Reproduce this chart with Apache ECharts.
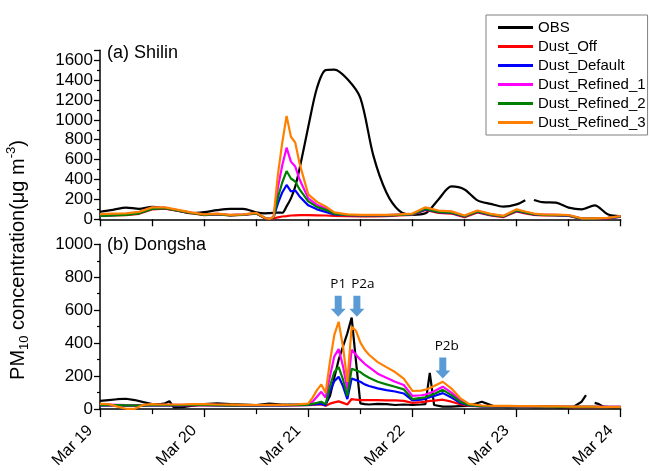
<!DOCTYPE html>
<html><head><meta charset="utf-8">
<script src="https://cdn.jsdelivr.net/npm/echarts@6/dist/echarts.min.js"></script>
<style>html,body{margin:0;padding:0;background:#fff}#c{width:650px;height:471px}</style>
</head><body><div id="c"></div>
<script>
// ---- data ----
const seriesNames = ['OBS','Dust_Off','Dust_Default','Dust_Refined_1','Dust_Refined_2','Dust_Refined_3'];
const seriesColors = ['#000000','#ff0000','#0000ff','#ff00ff','#008000','#ff8000'];
const tickLabels = ['Mar 19','Mar 20','Mar 21','Mar 22','Mar 23','Mar 24'];

// (a) Shilin, hours since Mar 19 00:00
const hoursA = [0,3,6,9,12,15,18,21,24,27,30,33,36,38,39,40,41,42,43,44,45,46,48,50,52,54,57,60,63,66,69,72,75,78,81,84,87,90,93,96,98,99,100,102,105,108,111,114,117,120];
const obsA = [76,95,118,105,125,110,88,62,72,92,105,105,70,60,62,65,68,66,130,210,330,510,930,1320,1500,1505,1410,1220,640,270,85,45,60,200,330,300,190,155,127,150,192,null,194,172,168,118,100,140,50,30];
const offA = [33,38,42,55,100,108,85,62,42,50,38,44,57,10,2,8,20,28,32,38,40,42,42,40,38,35,32,30,30,32,38,45,95,65,58,22,68,40,22,78,60,52,45,40,38,34,5,5,10,25];
const defA = [38,42,48,62,108,114,88,66,46,53,41,47,61,13,3,18,160,270,345,280,290,230,140,100,75,50,42,40,40,40,44,48,100,72,65,28,75,45,28,85,66,58,50,43,41,37,6,6,12,27];
const r1A  = [45,50,55,70,115,115,90,68,48,55,42,48,62,14,3,22,320,540,720,580,530,400,210,145,110,60,45,42,42,42,47,52,112,80,72,34,82,50,32,92,72,63,54,46,44,40,8,8,14,30];
const r2A  = [35,40,45,60,105,112,88,65,45,52,40,46,60,13,3,20,220,370,485,410,380,300,180,125,95,55,43,40,40,40,45,50,105,75,68,30,78,47,30,88,68,60,52,44,42,38,7,7,13,28];
const r3A  = [53,58,60,75,120,120,95,70,50,58,45,50,65,15,3,25,450,770,1040,830,770,560,250,175,130,70,50,45,45,45,50,58,120,88,80,38,88,55,35,100,78,68,58,50,47,43,10,10,15,33];

// (b) Dongsha
const hoursB = [0,2,4,6,8,10,12,14,15,16,17,19,21,24,27,30,33,36,39,42,45,47,48,49,50,51,52,53,54,55,56,57,58,59,60,61,62,64,66,68,70,72,74,75,76,77,79,81,83,85,88,91,94,97,100,103,106,109,111,112,113,114,115,116,118,120];
const obsB = [50,55,60,63,55,42,30,30,35,48,10,12,20,30,35,30,28,25,33,27,28,30,30,28,30,32,30,80,190,300,380,460,555,290,35,30,28,32,30,25,28,25,28,30,220,25,15,15,18,20,45,15,12,15,12,14,10,12,45,85,null,38,30,15,10,10];
const offB = [22,22,22,21,21,21,22,22,22,22,22,22,23,23,22,21,21,21,22,22,23,24,24,26,28,28,20,33,41,47,38,28,61,57,55,55,55,54,53,53,50,38,42,45,50,52,57,45,30,20,16,15,15,14,14,13,13,12,12,12,12,12,12,12,12,12];
const defB = [23,23,23,22,22,22,23,23,23,23,23,23,24,24,23,22,22,22,23,23,24,24,25,28,30,32,22,110,170,196,140,61,186,176,166,150,140,126,115,107,95,53,58,63,72,80,97,70,38,22,17,16,16,15,15,14,14,13,13,13,13,13,13,13,13,13];
const r1B  = [28,27,26,25,25,25,26,26,26,26,26,26,27,27,26,25,24,24,25,25,26,28,30,45,75,105,70,200,320,364,260,120,360,330,300,275,255,215,190,166,146,80,84,88,98,108,136,100,55,28,20,18,18,17,17,16,15,14,14,14,14,14,13,13,13,13];
const r2B  = [24,24,24,23,23,23,24,24,24,24,24,24,25,25,24,23,23,23,24,24,25,26,27,32,38,45,30,140,225,255,180,80,245,235,225,205,190,166,150,136,120,61,68,72,82,92,117,85,45,24,18,17,17,16,16,15,14,13,13,13,13,13,12,12,12,12];
const r3B  = [32,30,15,2,2,26,30,28,28,28,28,28,30,30,28,27,26,25,26,26,28,32,34,70,115,150,100,290,450,530,380,165,500,475,405,360,330,285,255,225,185,110,112,118,128,140,166,125,67,32,22,20,20,18,18,17,16,15,15,15,15,15,14,14,14,14];

// annotation arrows (panel b)
const arrowHours = [54.9, 59.2, 79.0];
const arrowValues = [561, 561, 186];
const arrowLabels = ['P1','P2a','P2b'];

// ---- chart ----
const FONT = "'Liberation Sans', Arial, sans-serif";
const pair = (h, v) => h.map((x, i) => [x, v[i]]);
const seriesA = [obsA, offA, defA, r1A, r2A, r3A];
const seriesB = [obsB, offB, defB, r1B, r2B, r3B];

const chart = echarts.init(document.getElementById('c'), null, {renderer: 'canvas'});
const mkLine = (name, color, data, idx, smooth) => ({
  name, type: 'line', xAxisIndex: idx, yAxisIndex: idx, data,
  showSymbol: false, symbol: 'none', connectNulls: false, smooth: smooth || false,
  lineStyle: {color, width: 2.2}, itemStyle: {color},
  animation: false, silent: true, z: 2
});
const series = [];
seriesNames.forEach((n, i) => {
  series.push(mkLine(n, seriesColors[i], pair(hoursA, seriesA[i]), 0, i === 0 ? 0.3 : false));
  series.push(mkLine(n, seriesColors[i], pair(hoursB, seriesB[i]), 1, false));
});
const labelOffsets = [[0, 0], [6, 0], [4, 0]];
series.push({
  name: 'arrows', type: 'scatter', xAxisIndex: 1, yAxisIndex: 1,
  data: arrowHours.map((h, i) => ({value: [h, arrowValues[i]], name: arrowLabels[i],
                                   label: {offset: labelOffsets[i]}})),
  symbol: 'path://M4,0 L11,0 L11,13 L15,13 L7.5,21 L0,13 L4,13 Z',
  symbolSize: [15, 21], symbolOffset: [0, '-50%'],
  itemStyle: {color: '#5b9bd5', opacity: 1},
  label: {show: true, position: 'top', distance: 4, formatter: p => p.name,
          fontFamily: "'Open Sans', sans-serif", fontSize: 13.5, color: '#000', opacity: 1},
  emphasis: {disabled: true},
  animation: false, silent: true, z: 5
});

const yAxisCommon = {
  type: 'value', min: 0, interval: 200,
  axisLine: {show: true, lineStyle: {color: '#000', width: 1.5}},
  axisTick: {show: true, inside: false, length: 6, lineStyle: {color: '#000', width: 1.3}},
  minorTick: {show: true, splitNumber: 2, length: 3, lineStyle: {color: '#000', width: 1.2}},
  splitLine: {show: false},
  axisLabel: {fontFamily: FONT, fontSize: 17, color: '#000', margin: 7, formatter: v => String(v)}
};

chart.setOption({
  animation: false,
  backgroundColor: '#fff',
  grid: [
    {left: 100, width: 520.7, top: 50.2, height: 169.1},
    {left: 100, width: 520.7, top: 244.3, height: 168.7}
  ],
  xAxis: [
    {gridIndex: 0, type: 'value', min: 0, max: 120, interval: 12,
     axisLine: {lineStyle: {color: '#000', width: 1.5}},
     axisTick: {show: true, length: 7, lineStyle: {color: '#000', width: 1.3}},
     axisLabel: {show: false}, splitLine: {show: false}},
    {gridIndex: 1, type: 'value', min: 0, max: 120, interval: 24,
     axisLine: {lineStyle: {color: '#000', width: 1.5}},
     axisTick: {show: true, length: 8, lineStyle: {color: '#000', width: 1.3}},
     minorTick: {show: true, splitNumber: 2, length: 5, lineStyle: {color: '#000', width: 1.2}},
     axisLabel: {show: true, rotate: 45, margin: 9, padding: [0, 14, 0, 0],
                 fontFamily: FONT, fontSize: 16, color: '#000',
                 formatter: v => tickLabels[Math.round(v / 24)]},
     splitLine: {show: false}}
  ],
  yAxis: [
    Object.assign({}, yAxisCommon, {gridIndex: 0, max: 1700,
      axisLabel: Object.assign({}, yAxisCommon.axisLabel, {showMaxLabel: false})}),
    Object.assign({}, yAxisCommon, {gridIndex: 1, max: 1000})
  ],
  legend: {
    data: seriesNames, orient: 'vertical', left: 486, top: 15,
    padding: [3, 2, 3, 12], itemGap: 0, itemWidth: 35, itemHeight: 3, icon: 'rect',
    borderColor: '#808080', borderWidth: 1, backgroundColor: '#fff',
    textStyle: {fontFamily: FONT, fontSize: 15, color: '#000', lineHeight: 19}
  },
  graphic: [
    {type: 'text', x: 107, y: 52.7, silent: true,
     style: {text: '(a) Shilin', fontFamily: FONT, fontSize: 18, fill: '#000', verticalAlign: 'middle'}},
    {type: 'text', x: 107, y: 245, silent: true,
     style: {text: '(b) Dongsha', fontFamily: FONT, fontSize: 18, fill: '#000', verticalAlign: 'middle'}},
    {type: 'text', x: 18, y: 260, rotation: Math.PI / 2, silent: true,
     style: {
       text: '{n|PM}{s|10}{n| concentration(μg m}{p|-3}{n|)}',
       align: 'center', verticalAlign: 'middle', fill: '#000',
       rich: {
         n: {fontFamily: FONT, fontSize: 20, lineHeight: 26, fill: '#000'},
         s: {fontFamily: FONT, fontSize: 13, lineHeight: 13, verticalAlign: 'bottom', fill: '#000'},
         p: {fontFamily: FONT, fontSize: 13, lineHeight: 13, verticalAlign: 'top', fill: '#000'}
       }
     }}
  ],
  series
});
</script>
</body></html>
